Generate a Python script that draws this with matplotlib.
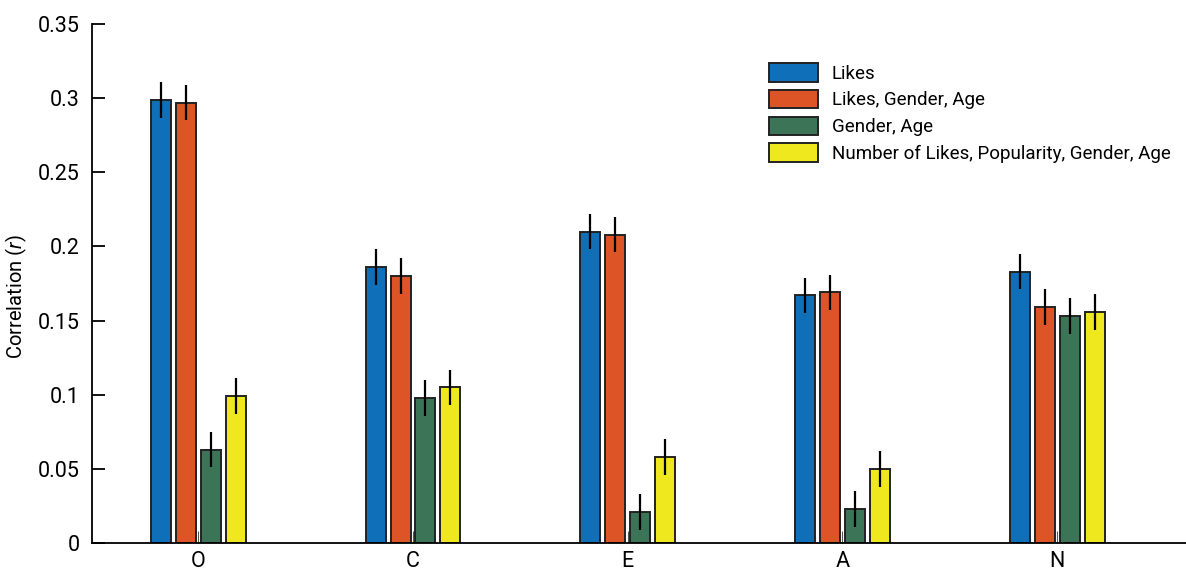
import matplotlib
matplotlib.use("Agg")
import matplotlib.pyplot as plt
import numpy as np

categories = ["O", "C", "E", "A", "N"]
series_names = ["Likes", "Likes, Gender, Age", "Gender, Age",
                "Number of Likes, Popularity, Gender, Age"]
likes = [0.299, 0.186, 0.210, 0.167, 0.183]
likes_gender_age = [0.297, 0.180, 0.208, 0.169, 0.159]
gender_age = [0.063, 0.098, 0.021, 0.023, 0.153]
nlikes_pop_gender_age = [0.099, 0.105, 0.058, 0.050, 0.156]
errors = [0.012, 0.012, 0.012, 0.012]
colors = ["#0F6FB9", "#DD5426", "#3B7457", "#F0E81E"]
yticks = [0, 0.05, 0.1, 0.15, 0.2, 0.25, 0.3, 0.35]
ytick_labels = ["0", "0.05", "0.1", "0.15", "0.2", "0.25", "0.3", "0.35"]

plt.rcParams['font.family'] = ['Roboto', 'DejaVu Sans']
plt.rcParams['mathtext.fontset'] = 'custom'
plt.rcParams['mathtext.it'] = 'Roboto:italic'
plt.rcParams['mathtext.rm'] = 'Roboto'

fig = plt.figure(figsize=(11.86, 5.74), dpi=100)
ax = fig.add_axes([0.0776, 0.054, 0.9224, 0.904])

x = np.arange(1, len(categories) + 1)
all_series = [likes, likes_gender_age, gender_age, nlikes_pop_gender_age]
width = 0.093
offsets = [-0.174, -0.058, 0.058, 0.174]
for vals, name, c, off, err in zip(all_series, series_names, colors, offsets, errors):
    ax.bar(x + off, vals, width, color=c, edgecolor="#222222", linewidth=1.4,
           label=name, zorder=2)
    ax.errorbar(x + off, vals, yerr=err, fmt="none", ecolor="black",
                elinewidth=1.6, capsize=0, zorder=3)

ax.set_xlim(0.505, 5.6)
ax.set_ylim(0, 0.35)
ax.set_xticks(x)
ax.set_xticklabels(categories, fontsize=15.5)
ax.set_yticks(yticks)
ax.set_yticklabels(ytick_labels, fontsize=15.5)
ax.tick_params(axis='y', direction='in', length=9, width=1.3, pad=9)
ax.tick_params(axis='x', direction='in', length=9, width=0.8, color="#555555", pad=6)
for s in ["top", "right"]:
    ax.spines[s].set_visible(False)
ax.spines["left"].set_linewidth(1.3)
ax.spines["bottom"].set_linewidth(1.3)
ax.set_ylabel("Correlation ($\\mathit{r}$)", fontsize=14.5)
ax.yaxis.set_label_coords(-0.0575, 0.475)

leg = ax.legend(loc="upper left", bbox_to_anchor=(769 / 1186, 1 - 63 / 574),
                bbox_transform=fig.transFigure, frameon=False, fontsize=13.5,
                handlelength=2.6, handleheight=1.15, labelspacing=0.38,
                handletextpad=0.75, borderaxespad=0, borderpad=0)

fig.savefig("out.png", dpi=100)
